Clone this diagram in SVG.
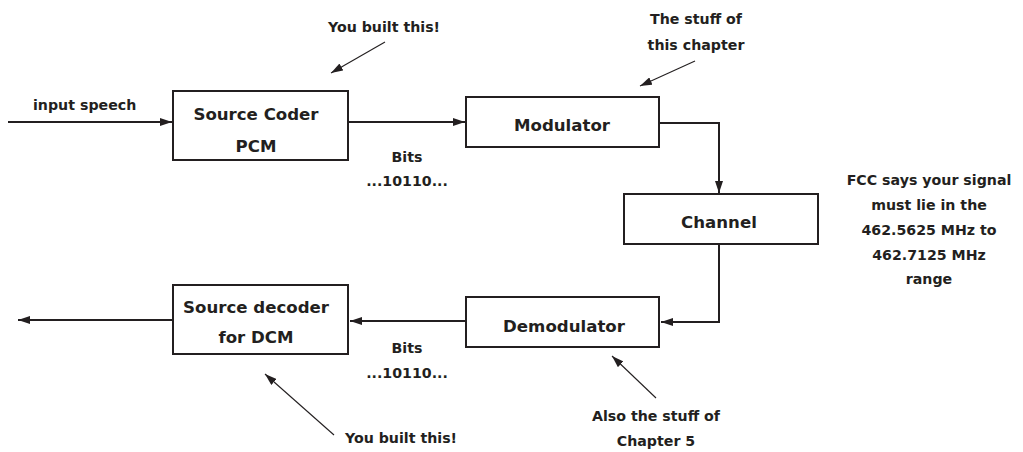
<svg xmlns="http://www.w3.org/2000/svg" width="1023" height="452" viewBox="0 0 1023 452">
  <style>
    .box { fill: #ffffff; stroke: #231f20; stroke-width: 2; }
    .conn { fill: none; stroke: #231f20; stroke-width: 2; }
    .thin { fill: none; stroke: #231f20; stroke-width: 1.1; }
    .lbl { font-family: "DejaVu Sans", "Liberation Sans", sans-serif; font-weight: bold; font-size: 16.6px; fill: #231f20; text-anchor: middle; }
    .note { font-family: "DejaVu Sans", "Liberation Sans", sans-serif; font-weight: bold; font-size: 14.2px; fill: #231f20; text-anchor: middle; }
  </style>
  <defs>
    <marker id="ah" markerUnits="userSpaceOnUse" markerWidth="12" markerHeight="8" refX="12" refY="4" orient="auto">
      <path d="M0,0 L12,4 L0,8 z" fill="#231f20"/>
    </marker>
    <marker id="ahs" markerUnits="userSpaceOnUse" markerWidth="12" markerHeight="8" refX="12" refY="4" orient="auto">
      <path d="M0,0 L12,4 L0,8 z" fill="#231f20"/>
    </marker>
  </defs>
  <rect width="1023" height="452" fill="#ffffff"/>

  <g id="connectors">
    <path class="conn" d="M8 122 H172" marker-end="url(#ah)"/>
    <path class="conn" d="M348 122 H465" marker-end="url(#ah)"/>
    <path class="conn" d="M659 123 H719 V193" marker-end="url(#ah)"/>
    <path class="conn" d="M719 244 V322 H661" marker-end="url(#ah)"/>
    <path class="conn" d="M466 321 H350" marker-end="url(#ah)"/>
    <path class="conn" d="M173 320 H18" marker-end="url(#ah)"/>
    <path class="thin" d="M385 42 L331 73" marker-end="url(#ahs)"/>
    <path class="thin" d="M695 61 L640 86" marker-end="url(#ahs)"/>
    <path class="thin" d="M334 435 L265 374" marker-end="url(#ahs)"/>
    <path class="thin" d="M656 398 L612 356" marker-end="url(#ahs)"/>
  </g>

  <g id="source-coder">
    <rect class="box" x="173" y="91" width="175" height="69"/>
    <text class="lbl" x="256" y="120">Source Coder</text>
    <text class="lbl" x="256" y="152">PCM</text>
  </g>
  <g id="modulator">
    <rect class="box" x="466" y="97" width="193" height="50"/>
    <text class="lbl" x="562" y="131">Modulator</text>
  </g>
  <g id="channel">
    <rect class="box" x="624" y="194" width="194" height="50"/>
    <text class="lbl" x="719" y="228">Channel</text>
  </g>
  <g id="demodulator">
    <rect class="box" x="466" y="297" width="193" height="50"/>
    <text class="lbl" x="564" y="332">Demodulator</text>
  </g>
  <g id="source-decoder">
    <rect class="box" x="173" y="285" width="175" height="69"/>
    <text class="lbl" x="256" y="313">Source decoder</text>
    <text class="lbl" x="256" y="343">for DCM</text>
  </g>

  <g id="annotations">
    <text class="note" x="33" y="110" style="text-anchor:start">input speech</text>
    <text class="note" x="384" y="32">You built this!</text>
    <text class="note" x="696" y="24">The stuff of</text>
    <text class="note" x="696" y="50">this chapter</text>
    <text class="note" x="407" y="162">Bits</text>
    <text class="note" x="407" y="186">...10110...</text>
    <text class="note" x="407" y="353">Bits</text>
    <text class="note" x="407" y="378">...10110...</text>
    <text class="note" x="929" y="185">FCC says your signal</text>
    <text class="note" x="929" y="210">must lie in the</text>
    <text class="note" x="929" y="235">462.5625 MHz to</text>
    <text class="note" x="929" y="260">462.7125 MHz</text>
    <text class="note" x="929" y="284">range</text>
    <text class="note" x="401" y="443">You built this!</text>
    <text class="note" x="656" y="421">Also the stuff of</text>
    <text class="note" x="656" y="446">Chapter 5</text>
  </g>
</svg>
